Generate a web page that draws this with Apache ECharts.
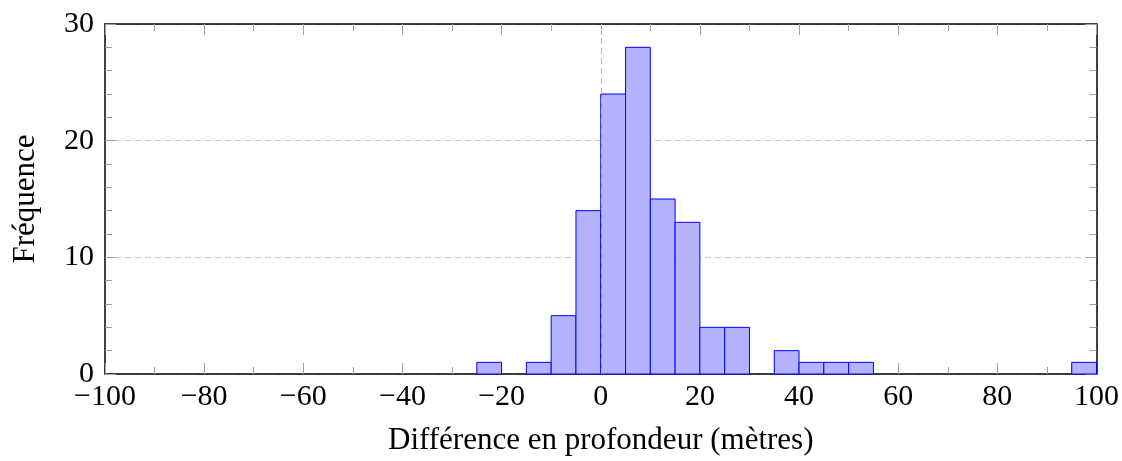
<!DOCTYPE html>
<html>
<head>
<meta charset="utf-8">
<script src="https://cdn.jsdelivr.net/npm/echarts@6/dist/echarts.min.js"></script>
<style>
  html, body { margin: 0; padding: 0; background: #fff; }
  #chart { width: 1122px; height: 461px; }
</style>
</head>
<body>
<div id="chart"></div>
<script>
// histogram bins (width 5 m), only non-empty ones
const binStart = [-25, -15, -10, -5, 0, 5, 10, 15, 20, 25, 35, 40, 45, 50, 95];
const binWidth = 5;
const counts   = [1, 1, 5, 14, 24, 28, 15, 13, 4, 4, 2, 1, 1, 1, 1];

const xLabel = 'Différence en profondeur (mètres)';
const yLabel = 'Fréquence';

const font = '"Liberation Serif", "DejaVu Serif", serif';
const tickGrey = '#a0a0a0';
const fmt = (v) => String(v).replace('-', '\u2212');

const data = binStart.map((s, i) => [s, s + binWidth, counts[i]]);

const chart = echarts.init(document.getElementById('chart'), null, { renderer: 'canvas' });

function axisCommon(showLabels, minorSplit, margin) {
  return {
    axisLine: { show: true, onZero: false, lineStyle: { color: '#000', width: 1.5 } },
    axisTick: { show: true, inside: true, length: 11, lineStyle: { color: tickGrey, width: 1 } },
    minorTick: { show: true, splitNumber: minorSplit, length: 7, lineStyle: { color: tickGrey, width: 1 } },
    axisLabel: {
      show: showLabels, color: '#000', fontFamily: font, fontSize: 30,
      margin: margin, formatter: fmt
    }
  };
}

const option = {
  animation: false,
  grid: { left: 105, right: 24, top: 24, bottom: 85, containLabel: false },
  xAxis: [
    Object.assign(axisCommon(true, 2, 8), {
      type: 'value', min: -100, max: 100, interval: 20, position: 'bottom',
      splitLine: { show: false },
      name: xLabel, nameLocation: 'middle', nameGap: 51,
      nameTextStyle: { fontFamily: font, fontSize: 31, color: '#000' }
    }),
    Object.assign(axisCommon(false, 2, 8), {
      type: 'value', min: -100, max: 100, interval: 20, position: 'top',
      splitLine: { show: false }
    })
  ],
  yAxis: [
    Object.assign(axisCommon(true, 5, 11), {
      type: 'value', min: 0, max: 30, interval: 10, position: 'left',
      splitLine: { show: true, lineStyle: { color: '#c8c8c8', type: [6, 4], width: 1 } },
      name: yLabel, nameLocation: 'middle', nameGap: 64, nameRotate: 90,
      nameTextStyle: { fontFamily: font, fontSize: 31, color: '#000' }
    }),
    Object.assign(axisCommon(false, 5, 11), {
      type: 'value', min: 0, max: 30, interval: 10, position: 'right',
      splitLine: { show: false }
    })
  ],
  series: [{
    type: 'custom',
    xAxisIndex: 0, yAxisIndex: 0,
    encode: { x: [0, 1], y: 2 },
    data: data,
    renderItem: function (params, api) {
      const p0 = api.coord([api.value(0), 0]);
      const p1 = api.coord([api.value(1), api.value(2)]);
      return {
        type: 'rect',
        shape: { x: p0[0], y: p1[1], width: p1[0] - p0[0], height: p0[1] - p1[1] },
        style: { fill: '#b3b3ff', stroke: '#0000ff', lineWidth: 1 }
      };
    },
    markLine: {
      silent: true, symbol: 'none', label: { show: false },
      lineStyle: { color: '#b8b8b8', type: [6, 4], width: 1 },
      data: [{ xAxis: 0 }]
    },
    z: 1
  }]
};

chart.setOption(option);
</script>
</body>
</html>
